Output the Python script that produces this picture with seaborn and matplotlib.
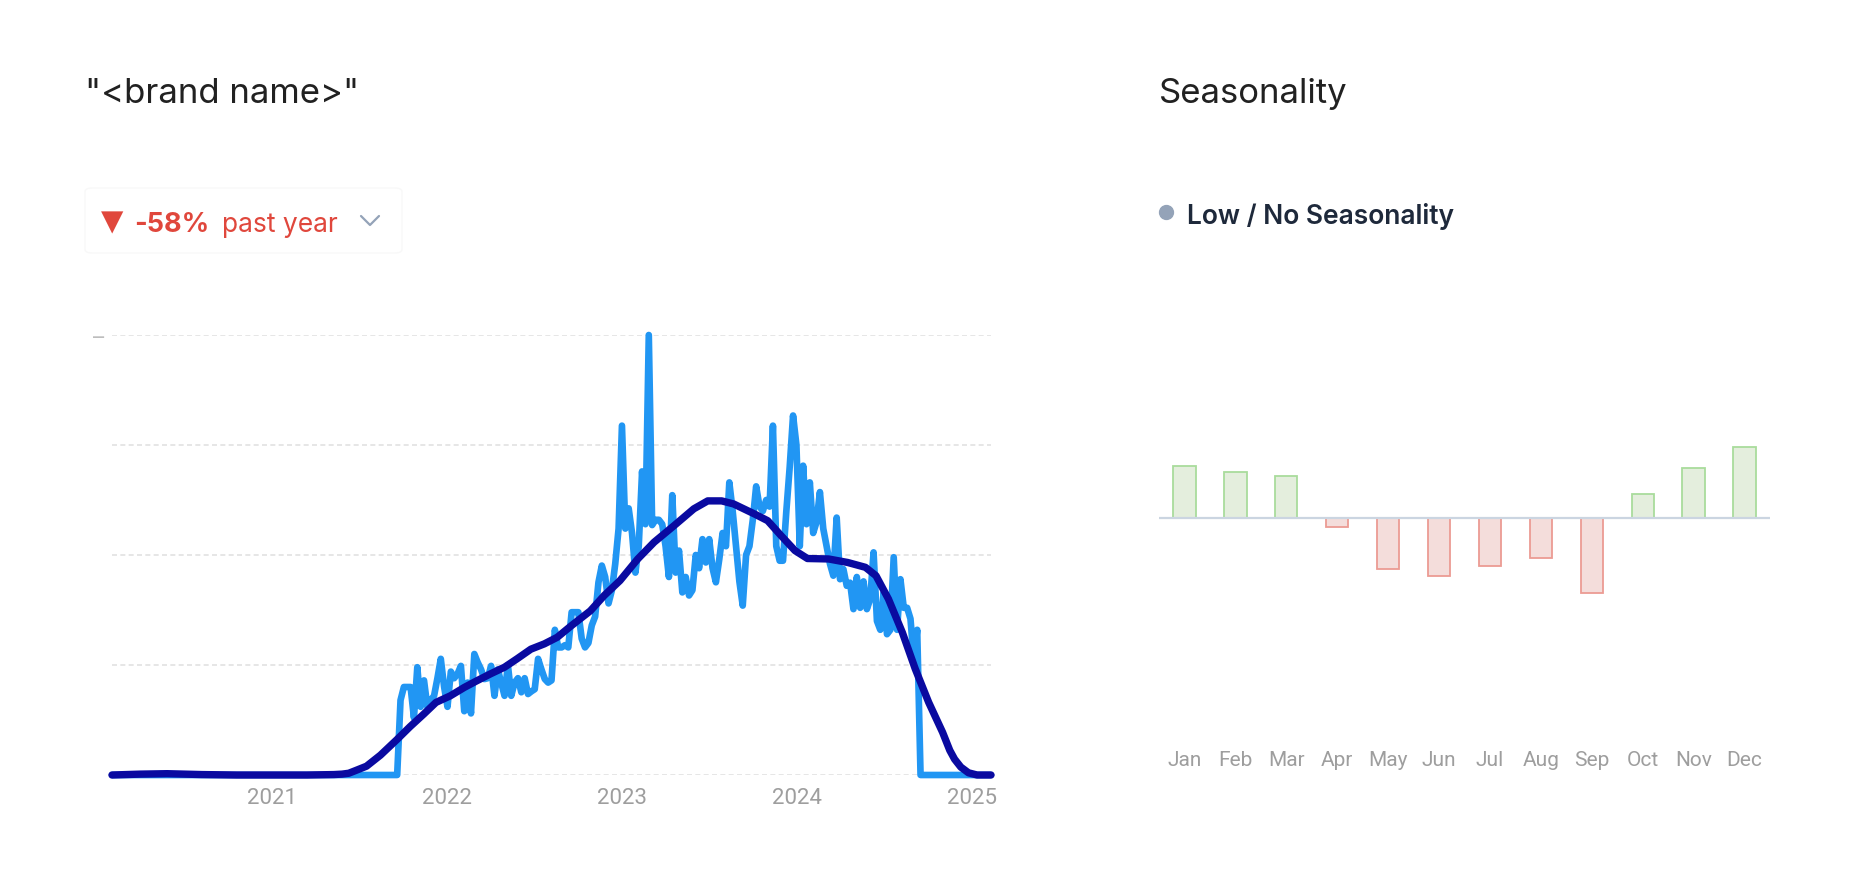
import numpy as np
import pandas as pd
import matplotlib
matplotlib.use("Agg")
import matplotlib.pyplot as plt
import seaborn as sns
from matplotlib.patches import FancyBboxPatch
from matplotlib.lines import Line2D

# ---------------- data ----------------
title_left = '"<brand name>"'
title_right = "Seasonality"
change_value = "-58%"
change_label = "past year"
seasonality_label = "Low / No Seasonality"

start_date = "2020-02-02"  # first weekly point
weekly_interest = [
    0, 0, 0, 0, 0, 0, 0, 0, 0, 0, 0, 0, 0, 0, 0, 0, 0, 0, 0, 0,
    0, 0, 0, 0, 0, 0, 0, 0, 0, 0, 0, 0, 0, 0, 0, 0, 0, 0, 0, 0,
    0, 0, 0, 0, 0, 0, 0, 0, 0, 0, 0, 0, 0, 0, 0, 0, 0, 0, 0, 0,
    0, 0, 0, 0, 0, 0, 0, 0, 0, 0, 0, 0, 0, 0, 0, 0, 0, 0, 0, 0,
    0, 0, 0, 0, 0, 0,
    17, 20, 20, 20, 13, 24.5, 15.5, 21.5, 15.5, 17, 18, 22, 26.4, 20, 15.5,
    23.5, 22, 23, 24.8, 14.5, 21, 14, 27.5, 25.6, 24, 21.8, 22, 24.8, 18, 24,
    21, 18, 25, 18, 21, 22, 18.8, 22, 18.4, 19, 19.5, 26.4, 24, 21.8, 21, 21.5,
    33, 29, 29, 29.5, 29, 37, 37, 37, 31, 29, 30, 34, 36, 43.8, 47.6, 45, 39,
    42, 48, 56, 79.4, 56, 60.6, 55, 46, 52, 69, 57, 100, 56.8, 58, 58, 57, 52,
    45, 63.6, 46, 51, 41.5, 45, 40.8, 42, 50, 47, 53.6, 48.3, 53.6, 47, 43.8,
    49, 55, 52, 66.5,
    60, 52, 44, 38.5, 50, 52, 58, 65.6, 61, 60, 62.5, 61, 79.4, 52, 48.7, 48.7,
    60, 70, 81.7, 75, 52, 70.3, 57, 66.5, 55, 57.5, 64.3, 56, 52, 48, 45.3,
    58.5, 44.5, 46.8, 43, 43.7, 37.7,
    45, 38, 44, 37.7, 40, 50.6, 35, 33, 41.5, 32, 33, 49.5, 33, 44.5, 38, 38,
    35.5, 26, 33,
    0, 0, 0, 0, 0, 0, 0, 0, 0, 0, 0, 0, 0, 0, 0, 0, 0, 0, 0, 0, 0, 0,
]

trend_dates = [
    "2020-02-02", "2020-04-01", "2020-05-27", "2020-08-07", "2020-10-19",
    "2021-01-01", "2021-03-15", "2021-05-10", "2021-05-27", "2021-06-10",
    "2021-06-24", "2021-07-17",
    "2021-08-15", "2021-09-18", "2021-10-16", "2021-11-14", "2021-12-09",
    "2022-01-08", "2022-02-06", "2022-03-04", "2022-04-02", "2022-05-01",
    "2022-05-27", "2022-06-25", "2022-07-23", "2022-08-19", "2022-09-17",
    "2022-10-27", "2022-11-25", "2022-12-28", "2023-02-03", "2023-03-09",
    "2023-04-20", "2023-05-31", "2023-06-29", "2023-07-28", "2023-08-22",
    "2023-10-05", "2023-11-01", "2023-11-29", "2023-12-28", "2024-01-23",
    "2024-03-07", "2024-04-16", "2024-05-23", "2024-06-14", "2024-07-10",
    "2024-08-08", "2024-09-04", "2024-10-02", "2024-10-31", "2024-11-15",
    "2024-11-25", "2024-12-08", "2024-12-24", "2025-01-11", "2025-02-09",
]
trend_values = [
    0, 0.2, 0.3, 0.1, 0,
    0, 0, 0.1, 0.2, 0.4,
    1.0, 2.0,
    4.5, 8.0, 11.0, 13.9, 16.5,
    18.0, 19.9, 21.4, 23.0, 24.5,
    26.4, 28.6, 29.8, 31.3, 33.9,
    37.3, 40.8, 44.2, 49.1, 52.9,
    56.7, 60.5, 62.3, 62.3, 61.6,
    59.3, 57.8, 54.4, 51.0, 49.2,
    49.1, 48.3, 47.2, 45.3, 40.0,
    32.4, 24.1, 16.5, 9.7, 5.6,
    3.6, 1.8, 0.5, 0, 0,
]

year_ticks = ["2021", "2022", "2023", "2024", "2025"]
y_ticks = [0, 25, 50, 75, 100]

months = ["Jan", "Feb", "Mar", "Apr", "May", "Jun",
          "Jul", "Aug", "Sep", "Oct", "Nov", "Dec"]
seasonal_index = [13.1, 11.6, 10.4, -2.2, -12.8, -14.6,
                  -11.9, -9.9, -18.8, 5.9, 12.6, 17.8]

# ---------------- style ----------------
sns.set_theme(style="white")
plt.rcParams["font.family"] = ["Inter", "DejaVu Sans"]

W, H = 1854, 878
fig = plt.figure(figsize=(W / 100, H / 100), dpi=100)
fig.patch.set_facecolor("white")

LIGHT_BLUE = "#2196f3"
DARK_BLUE = "#0a0aa0"
RED = "#e0473c"
GRAY_TXT = "#9e9e9e"

# ---------------- left: trend chart ----------------
ax1 = fig.add_axes([112 / W, 1 - 776 / H, 879 / W, 440 / H])
df = pd.DataFrame({
    "date": pd.date_range(start_date, periods=len(weekly_interest), freq="7D"),
    "interest": weekly_interest,
})
tdf = pd.DataFrame({"date": pd.to_datetime(trend_dates), "trend": trend_values})

sns.lineplot(data=df, x="date", y="interest", ax=ax1, color=LIGHT_BLUE,
             linewidth=4.8, estimator=None, sort=False, clip_on=False,
             solid_joinstyle="round", zorder=3)
sns.lineplot(data=tdf, x="date", y="trend", ax=ax1, color=DARK_BLUE,
             linewidth=5.3, estimator=None, sort=False, clip_on=False,
             solid_joinstyle="round", solid_capstyle="round", zorder=4)

ax1.set_xlim(df["date"].iloc[0], df["date"].iloc[-1])
ax1.set_ylim(0, 100)
ax1.set_yticks(y_ticks)
ax1.set_yticklabels(["", "", "", "", "\u2013"])
ax1.set_xticks(pd.to_datetime([f"{y}-01-01" for y in year_ticks]))
ax1.set_xticklabels(year_ticks)
ax1.set_axisbelow(True)
ax1.grid(axis="y", color="#e2e2e2", linestyle=(0, (3, 2)), linewidth=1.2)
ax1.grid(axis="x", visible=False)
ax1.tick_params(axis="x", length=0, pad=9, labelsize=16, labelcolor=GRAY_TXT)
ax1.tick_params(axis="y", length=0, pad=6, labelsize=16, labelcolor="#bdbdbd")
for lab in ax1.get_xticklabels():
    lab.set_family(["Roboto", "DejaVu Sans"])
for s in ax1.spines.values():
    s.set_visible(False)
ax1.set_xlabel("")
ax1.set_ylabel("")

# ---------------- right: seasonality bars ----------------
ax2 = fig.add_axes([1159 / W, 1 - 740 / H, 611 / W, 480 / H])
sdf = pd.DataFrame({
    "month": months,
    "index": seasonal_index,
    "dir": ["up" if v >= 0 else "down" for v in seasonal_index],
})
sns.barplot(data=sdf, x="month", y="index", hue="dir", order=months,
            palette={"up": "#e3f1da", "down": "#f8dad7"}, dodge=False,
            width=0.44, legend=False, ax=ax2, zorder=3)
for p in ax2.patches:
    h = p.get_height()
    if np.isnan(h):
        continue
    p.set_edgecolor("#a9dc9c" if h >= 0 else "#ec9b93")
    p.set_linewidth(1.3)
ax2.axhline(0, color="#cbd5e1", linewidth=1.6, zorder=4)
ax2.set_xlim(-0.5, 11.5)
ax2.set_ylim(-55.25, 64.75)
ax2.set_yticks([])
ax2.tick_params(axis="x", length=0, pad=8, labelsize=15, labelcolor=GRAY_TXT)
for lab in ax2.get_xticklabels():
    lab.set_family(["Roboto", "DejaVu Sans"])
for s in ax2.spines.values():
    s.set_visible(False)
ax2.set_xlabel("")
ax2.set_ylabel("")

# ---------------- texts ----------------
fig.text(85 / W, 1 - 103 / H, title_left, fontsize=25, color="#212121",
         va="baseline", ha="left")
fig.text(1159 / W, 1 - 103 / H, title_right, fontsize=25, color="#212121",
         va="baseline", ha="left")

# change badge
box = FancyBboxPatch((85 / W, 1 - 254 / H), (402 - 85) / W, (254 - 189) / H,
                     boxstyle="round,pad=0,rounding_size=0.004",
                     transform=fig.transFigure, facecolor="none",
                     edgecolor="#f8f8f8", linewidth=1.0)
fig.add_artist(box)
fig.text(101 / W, 1 - 222 / H, "\u25bc", fontsize=21, color=RED,
         family="DejaVu Sans", va="center", ha="left")
fig.text(134 / W, 1 - 232.5 / H, change_value, fontsize=19.5, color=RED,
         fontweight="bold", va="baseline", ha="left")
fig.text(221.7 / W, 1 - 232.5 / H, change_label, fontsize=19, color=RED,
         va="baseline", ha="left")
fig.add_artist(Line2D([361 / W, 370 / W, 379 / W],
                      [1 - 217 / H, 1 - 226 / H, 1 - 217 / H],
                      transform=fig.transFigure, color="#94a3b8",
                      linewidth=1.6, solid_capstyle="round"))

# seasonality label
fig.add_artist(Line2D([1166 / W], [1 - 213 / H], marker="o", markersize=10,
                      color="#94a3b8", linestyle="none",
                      transform=fig.transFigure))
fig.text(1187 / W, 1 - 223.5 / H, seasonality_label, fontsize=19,
         color="#1e293b", fontweight="semibold", va="baseline", ha="left")

fig.savefig("out.png", dpi=100, facecolor="white")
